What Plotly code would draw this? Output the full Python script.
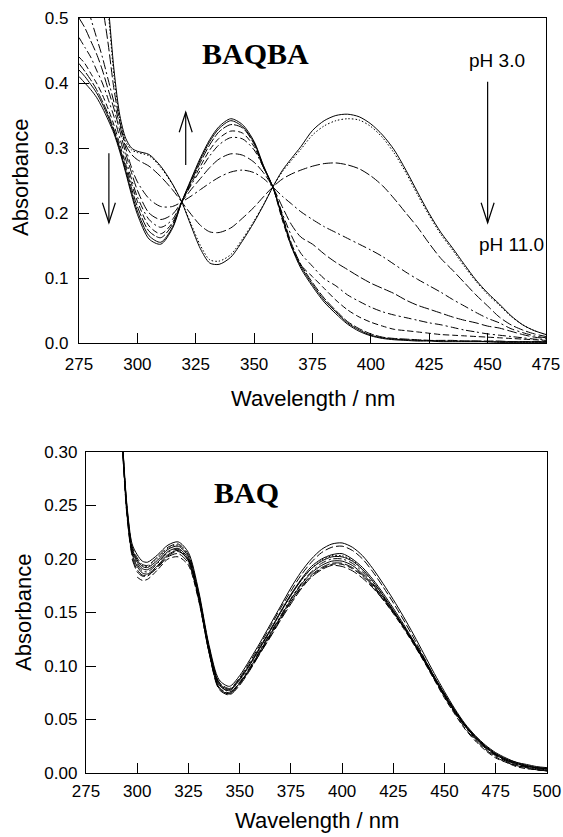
import plotly.graph_objects as go

# ---------------- BAQBA (top panel) ----------------
wl_top = [275, 277.5, 280, 282.5, 285, 287.5, 290, 292.5, 295, 297.5, 300,
          305, 310, 315, 319, 323, 327, 331, 335, 340, 345, 350, 354, 358, 362, 366, 370,
          375, 380, 385, 390, 395, 400, 405, 410, 415, 420, 425, 430, 435, 440, 445,
          450, 455, 460, 465, 470, 475]

baqba_ph3 = [0.80, 0.75, 0.70, 0.65, 0.60, 0.52, 0.42, 0.35, 0.315, 0.30, 0.295,
             0.29, 0.272, 0.245, 0.217, 0.18, 0.145, 0.123, 0.121, 0.132, 0.157, 0.186, 0.212, 0.240, 0.265, 0.284, 0.302,
             0.327, 0.342, 0.350, 0.352, 0.348, 0.337, 0.320, 0.297, 0.266, 0.232, 0.199, 0.170, 0.146, 0.121, 0.097,
             0.077, 0.060, 0.042, 0.028, 0.019, 0.013]
baqba_c2 = [0.78, 0.73, 0.68, 0.63, 0.58, 0.51, 0.41, 0.345, 0.31, 0.297, 0.293,
            0.288, 0.27, 0.244, 0.217, 0.183, 0.15, 0.128, 0.126, 0.136, 0.16, 0.188, 0.213, 0.240, 0.263, 0.281, 0.298,
            0.320, 0.334, 0.342, 0.345, 0.343, 0.333, 0.316, 0.292, 0.262, 0.228, 0.196, 0.167, 0.143, 0.118, 0.095,
            0.075, 0.058, 0.041, 0.028, 0.019, 0.013]
baqba_c3 = [0.72, 0.67, 0.62, 0.57, 0.52, 0.46, 0.39, 0.34, 0.305, 0.29, 0.282,
            0.272, 0.256, 0.236, 0.217, 0.198, 0.181, 0.171, 0.17, 0.177, 0.192, 0.209, 0.225, 0.240, 0.252, 0.26, 0.266,
            0.272, 0.276, 0.277, 0.274, 0.268, 0.257, 0.242, 0.222, 0.200, 0.178, 0.153, 0.130, 0.112, 0.093, 0.074,
            0.057, 0.040, 0.028, 0.020, 0.014, 0.010]
baqba_c4 = [0.56, 0.53, 0.50, 0.47, 0.44, 0.405, 0.37, 0.335, 0.30, 0.27, 0.248,
            0.222, 0.21, 0.21, 0.217, 0.226, 0.236, 0.246, 0.255, 0.263, 0.266, 0.262, 0.253, 0.240, 0.226, 0.214, 0.202,
            0.190, 0.179, 0.170, 0.161, 0.152, 0.143, 0.133, 0.121, 0.109, 0.098, 0.088, 0.078, 0.067, 0.057, 0.047,
            0.038, 0.031, 0.022, 0.016, 0.011, 0.008]
baqba_c5 = [0.50, 0.485, 0.465, 0.445, 0.42, 0.39, 0.36, 0.326, 0.292, 0.262, 0.235,
            0.20, 0.19, 0.198, 0.217, 0.236, 0.253, 0.27, 0.283, 0.291, 0.289, 0.278, 0.262, 0.240, 0.21, 0.182, 0.163,
            0.152, 0.137, 0.124, 0.113, 0.102, 0.092, 0.084, 0.076, 0.066, 0.058, 0.052, 0.046, 0.040, 0.035, 0.031,
            0.026, 0.023, 0.018, 0.013, 0.009, 0.007]
baqba_c6 = [0.47, 0.455, 0.44, 0.42, 0.40, 0.375, 0.348, 0.315, 0.283, 0.252, 0.225,
            0.19, 0.178, 0.19, 0.217, 0.243, 0.266, 0.288, 0.305, 0.316, 0.314, 0.297, 0.27, 0.240, 0.20, 0.165, 0.138,
            0.118, 0.099, 0.088, 0.074, 0.064, 0.055, 0.048, 0.043, 0.039, 0.035, 0.031, 0.028, 0.024, 0.020, 0.017,
            0.014, 0.012, 0.010, 0.008, 0.006, 0.005]
baqba_c7 = [0.44, 0.43, 0.415, 0.40, 0.382, 0.36, 0.335, 0.305, 0.275, 0.245, 0.218,
            0.18, 0.168, 0.185, 0.217, 0.245, 0.272, 0.297, 0.315, 0.326, 0.323, 0.302, 0.27, 0.240, 0.19, 0.148, 0.12,
            0.102, 0.084, 0.066, 0.051, 0.04, 0.032, 0.026, 0.021, 0.019, 0.017, 0.015, 0.013, 0.012, 0.011, 0.010,
            0.009, 0.008, 0.007, 0.006, 0.005, 0.004]
baqba_c8 = [0.42, 0.41, 0.398, 0.385, 0.368, 0.348, 0.325, 0.297, 0.265, 0.232, 0.203,
            0.165, 0.155, 0.178, 0.217, 0.25, 0.282, 0.31, 0.33, 0.342, 0.333, 0.308, 0.272, 0.240, 0.195, 0.15, 0.118,
            0.09, 0.066, 0.048, 0.031, 0.02, 0.012, 0.008, 0.006, 0.005, 0.004, 0.004, 0.003, 0.003, 0.003, 0.003,
            0.002, 0.002, 0.002, 0.002, 0.002, 0.002]
baqba_c9 = [0.41, 0.40, 0.39, 0.378, 0.362, 0.343, 0.322, 0.294, 0.262, 0.228, 0.198,
            0.16, 0.152, 0.176, 0.217, 0.252, 0.285, 0.313, 0.333, 0.345, 0.336, 0.31, 0.273, 0.240, 0.193, 0.148, 0.115,
            0.087, 0.063, 0.045, 0.029, 0.018, 0.011, 0.007, 0.005, 0.004, 0.003, 0.003, 0.002, 0.002, 0.002, 0.002,
            0.002, 0.001, 0.001, 0.001, 0.001, 0.001]
baqba_ph11 = [0.43, 0.418, 0.405, 0.39, 0.372, 0.352, 0.328, 0.30, 0.27, 0.238, 0.21,
              0.172, 0.162, 0.182, 0.217, 0.248, 0.278, 0.305, 0.325, 0.336, 0.331, 0.306, 0.27, 0.240, 0.197, 0.153, 0.121,
              0.093, 0.069, 0.05, 0.033, 0.022, 0.014, 0.009, 0.007, 0.006, 0.005, 0.004, 0.004, 0.004, 0.003, 0.003,
              0.003, 0.003, 0.002, 0.002, 0.002, 0.002]

top_series = [baqba_ph3, baqba_c2, baqba_c3, baqba_c4, baqba_c5,
              baqba_c6, baqba_c7, baqba_c8, baqba_c9, baqba_ph11]
top_dashes = ["solid", "1.5px,2px", "10px,3px", "9px,3px,2px,3px", "10px,3px",
              "8px,3px,2px,3px", "6px,3px", "solid", "solid", "10px,2px"]

# ---------------- BAQ (bottom panel) ----------------
wl_bot = [290, 292.5, 295, 297.5, 300, 302.5, 305, 310, 315, 320, 325, 330, 335, 340,
          345, 350, 355, 360, 365, 370, 375, 380, 385, 390, 395, 400, 405, 410, 415,
          420, 425, 430, 435, 440, 445, 450, 455, 460, 465, 470, 475, 480, 485, 490,
          495, 500]

baq_1 = [0.38, 0.318, 0.25, 0.214, 0.204, 0.198, 0.197, 0.204, 0.213, 0.216, 0.206, 0.17, 0.12, 0.087,
         0.081, 0.091, 0.106, 0.122, 0.139, 0.156, 0.173, 0.188, 0.2, 0.209, 0.214, 0.215, 0.211, 0.203, 0.191,
         0.177, 0.162, 0.146, 0.129, 0.111, 0.093, 0.076, 0.06, 0.046, 0.035, 0.026, 0.019, 0.014, 0.01, 0.008,
         0.006, 0.005]
baq_2 = [0.378, 0.317, 0.248, 0.212, 0.201, 0.195, 0.194, 0.202, 0.211, 0.214, 0.204, 0.168, 0.118, 0.085,
         0.079, 0.089, 0.104, 0.12, 0.137, 0.154, 0.17, 0.185, 0.197, 0.206, 0.211, 0.212, 0.208, 0.2, 0.188,
         0.174, 0.159, 0.143, 0.126, 0.108, 0.09, 0.073, 0.058, 0.044, 0.033, 0.024, 0.017, 0.012, 0.008, 0.006,
         0.004, 0.003]
baq_3 = [0.376, 0.316, 0.247, 0.21, 0.199, 0.193, 0.192, 0.199, 0.209, 0.212, 0.202, 0.167, 0.117, 0.084,
         0.078, 0.088, 0.102, 0.118, 0.134, 0.151, 0.167, 0.181, 0.193, 0.2, 0.204, 0.205, 0.2, 0.192, 0.181,
         0.168, 0.154, 0.139, 0.123, 0.107, 0.09, 0.074, 0.059, 0.045, 0.034, 0.025, 0.018, 0.013, 0.01, 0.007,
         0.005, 0.004]
baq_4 = [0.377, 0.316, 0.246, 0.209, 0.199, 0.194, 0.193, 0.201, 0.21, 0.213, 0.203, 0.166, 0.116, 0.083,
         0.078, 0.088, 0.102, 0.118, 0.134, 0.15, 0.166, 0.18, 0.191, 0.199, 0.203, 0.203, 0.199, 0.19, 0.179,
         0.166, 0.152, 0.137, 0.121, 0.105, 0.088, 0.072, 0.057, 0.044, 0.033, 0.024, 0.017, 0.012, 0.009, 0.006,
         0.005, 0.004]
baq_5 = [0.375, 0.315, 0.245, 0.208, 0.197, 0.191, 0.19, 0.197, 0.207, 0.21, 0.2, 0.165, 0.115, 0.082,
         0.077, 0.087, 0.101, 0.117, 0.133, 0.15, 0.166, 0.18, 0.191, 0.198, 0.202, 0.202, 0.198, 0.19, 0.179,
         0.166, 0.152, 0.137, 0.121, 0.105, 0.088, 0.072, 0.057, 0.044, 0.033, 0.024, 0.017, 0.012, 0.009, 0.006,
         0.005, 0.004]
baq_6 = [0.373, 0.313, 0.243, 0.206, 0.195, 0.189, 0.188, 0.196, 0.206, 0.209, 0.199, 0.164, 0.114, 0.08,
         0.075, 0.085, 0.099, 0.115, 0.131, 0.147, 0.163, 0.177, 0.188, 0.196, 0.2, 0.2, 0.196, 0.188, 0.177,
         0.165, 0.151, 0.137, 0.121, 0.105, 0.088, 0.072, 0.057, 0.044, 0.033, 0.024, 0.017, 0.012, 0.008, 0.006,
         0.004, 0.003]
baq_7 = [0.372, 0.312, 0.242, 0.205, 0.193, 0.187, 0.186, 0.194, 0.204, 0.208, 0.198, 0.163, 0.113, 0.079,
         0.074, 0.084, 0.098, 0.114, 0.13, 0.146, 0.162, 0.176, 0.187, 0.194, 0.198, 0.198, 0.194, 0.186, 0.176,
         0.164, 0.151, 0.137, 0.122, 0.106, 0.089, 0.073, 0.058, 0.045, 0.034, 0.025, 0.018, 0.013, 0.009, 0.007,
         0.005, 0.004]
baq_8 = [0.37, 0.31, 0.24, 0.203, 0.19, 0.185, 0.185, 0.192, 0.202, 0.205, 0.196, 0.162, 0.113, 0.078,
         0.073, 0.082, 0.096, 0.112, 0.128, 0.144, 0.16, 0.174, 0.185, 0.192, 0.196, 0.196, 0.192, 0.185, 0.175,
         0.163, 0.15, 0.136, 0.121, 0.105, 0.088, 0.071, 0.056, 0.042, 0.031, 0.022, 0.015, 0.01, 0.007, 0.005,
         0.003, 0.002]
baq_9 = [None, None, None, None, 0.183, 0.18, 0.181, 0.19, 0.2, 0.202, 0.194, 0.161, 0.114, 0.08,
         0.074, 0.083, 0.097, 0.113, 0.129, 0.145, 0.16, 0.173, 0.184, 0.191, 0.195, 0.195, 0.191, 0.184, 0.174,
         0.162, 0.149, 0.135, 0.12, 0.104, 0.087, 0.07, 0.055, 0.041, 0.03, 0.021, 0.014, 0.01, 0.006, 0.004,
         0.003, 0.002]
baq_10 = [None, None, None, 0.2, 0.188, 0.184, 0.184, 0.193, 0.203, 0.207, 0.199, 0.166, 0.118, 0.083,
          0.076, 0.084, 0.097, 0.112, 0.127, 0.143, 0.158, 0.172, 0.183, 0.19, 0.194, 0.193, 0.189, 0.182, 0.173,
          0.162, 0.15, 0.137, 0.123, 0.107, 0.09, 0.074, 0.058, 0.044, 0.032, 0.023, 0.016, 0.011, 0.007, 0.005,
          0.003, 0.002]

bot_series = [baq_1, baq_2, baq_3, baq_4, baq_5, baq_6, baq_7, baq_8, baq_9, baq_10]
bot_dashes = ["solid", "8px,3px", "solid", "1.5px,2px", "solid", "8px,3px,2px,3px",
              "solid", "10px,3px", "6px,3px", "10px,3px"]

# arrows on the top panel: (x, y_tail, y_head)
top_arrows = [(287.8, 0.292, 0.185), (320.7, 0.274, 0.355), (450.0, 0.402, 0.185)]

# ---------------- figure ----------------
W, H = 563, 837
top_px = dict(x0=79, x1=546, y0=18, y1=343)
bot_px = dict(x0=86, x1=547, y0=452, y1=773)


def dom(p):
    return [p["x0"] / W, p["x1"] / W], [1 - p["y1"] / H, 1 - p["y0"] / H]


tx, ty = dom(top_px)
bx, by = dom(bot_px)

fig = go.Figure()
for ys, d in zip(top_series, top_dashes):
    fig.add_trace(go.Scatter(x=wl_top, y=ys, mode="lines", xaxis="x", yaxis="y",
                             line=dict(color="black", width=1, dash=d, shape="spline", smoothing=0.8),
                             showlegend=False, hoverinfo="skip"))
for ys, d in zip(bot_series, bot_dashes):
    fig.add_trace(go.Scatter(x=wl_bot, y=ys, mode="lines", xaxis="x2", yaxis="y2",
                             line=dict(color="black", width=1, dash=d, shape="spline", smoothing=0.8),
                             showlegend=False, hoverinfo="skip", connectgaps=False))

axis_common = dict(showgrid=False, zeroline=False, showline=True, linecolor="black", linewidth=1.3,
                   mirror=True, ticks="inside", ticklen=10, tickwidth=1, tickcolor="black",
                   automargin=False,
                   tickfont=dict(family="Liberation Sans, Arial", size=17, color="black"))

fig.update_layout(
    template="none",
    width=W, height=H, margin=dict(l=0, r=0, t=0, b=0, pad=0),
    paper_bgcolor="white", plot_bgcolor="white",
    xaxis=dict(domain=tx, range=[275, 475], tickvals=[275, 300, 325, 350, 375, 400, 425, 450, 475],
               anchor="y", ticklabelstandoff=5, **axis_common),
    yaxis=dict(domain=ty, range=[0, 0.5], tickvals=[0, 0.1, 0.2, 0.3, 0.4, 0.5], tickformat=".1f",
               anchor="x", ticklabelstandoff=6, **axis_common),
    xaxis2=dict(domain=bx, range=[275, 500], tickvals=[275, 300, 325, 350, 375, 400, 425, 450, 475, 500],
                anchor="y2", ticklabelstandoff=2, **axis_common),
    yaxis2=dict(domain=by, range=[0, 0.3], tickvals=[0, 0.05, 0.1, 0.15, 0.2, 0.25, 0.3], tickformat=".2f",
                anchor="x2", ticklabelstandoff=4, **axis_common),
)

title_font = dict(family="Liberation Sans, Arial", size=22, color="black")
ann = []
# axis titles
ann.append(dict(text="Absorbance", xref="paper", yref="paper", x=21 / W, y=1 - 178 / H,
                textangle=-90, showarrow=False, font=title_font, xanchor="center", yanchor="middle"))
ann.append(dict(text="Wavelength / nm", xref="paper", yref="paper", x=312.5 / W, y=1 - 398 / H,
                showarrow=False, font=title_font, xanchor="center", yanchor="middle"))
ann.append(dict(text="Absorbance", xref="paper", yref="paper", x=23 / W, y=1 - 613 / H,
                textangle=-90, showarrow=False, font=title_font, xanchor="center", yanchor="middle"))
ann.append(dict(text="Wavelength / nm", xref="paper", yref="paper", x=317 / W, y=1 - 820 / H,
                showarrow=False, font=title_font, xanchor="center", yanchor="middle"))
# panel labels
serif = dict(family="Liberation Serif, Times New Roman", size=30, color="black")
ann.append(dict(text="<b>BAQBA</b>", xref="x", yref="y", x=350.6, y=0.446, showarrow=False,
                font=serif, xanchor="center", yanchor="middle"))
ann.append(dict(text="<b>BAQ</b>", xref="x2", yref="y2", x=353.5, y=0.2626, showarrow=False,
                font=serif, xanchor="center", yanchor="middle"))
ph_font = dict(family="Liberation Sans, Arial", size=19, color="black")
ann.append(dict(text="pH 3.0", xref="x", yref="y", x=454.1, y=0.434, showarrow=False,
                font=ph_font, xanchor="center", yanchor="middle"))
ann.append(dict(text="pH 11.0", xref="x", yref="y", x=475, y=0.152, showarrow=False,
                font=ph_font, xanchor="right", yanchor="middle"))
fig.update_layout(annotations=ann)

# arrows (open V heads), head size in pixels converted to data units
px_per_nm = (top_px["x1"] - top_px["x0"]) / 200.0
px_per_abs = (top_px["y1"] - top_px["y0"]) / 0.5
hw = 6.5 / px_per_nm
hl = 20 / px_per_abs
shapes = []
for x, y0, y1 in top_arrows:
    shapes.append(dict(type="line", xref="x", yref="y", x0=x, x1=x, y0=y0, y1=y1,
                       line=dict(color="black", width=1.2)))
    s = 1 if y1 < y0 else -1
    shapes.append(dict(type="path", xref="x", yref="y",
                       path=f"M{x - hw},{y1 + s * hl} L{x},{y1} L{x + hw},{y1 + s * hl}",
                       line=dict(color="black", width=1.2)))
fig.update_layout(shapes=shapes)

fig.write_html("out.html", config={"displayModeBar": False},
               post_script="document.body.style.margin='0px';document.body.style.overflow='hidden';")
